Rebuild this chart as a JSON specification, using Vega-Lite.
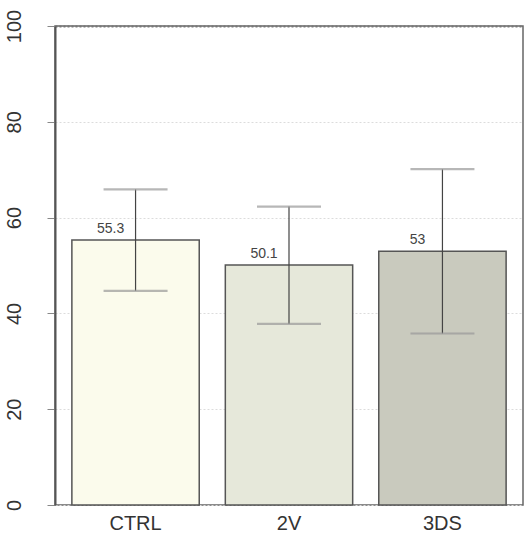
{
  "$schema": "https://vega.github.io/schema/vega-lite/v6.json",
  "width": 468,
  "height": 479,
  "autosize": {"type": "none"},
  "padding": {"left": 55, "top": 26, "right": 7, "bottom": 38},
  "background": "white",
  "config": {
    "font": "Liberation Sans",
    "view": {"stroke": "#666", "strokeWidth": 1.5},
    "axis": {"labelFont": "Liberation Sans", "labelColor": "#333"}
  },
  "data": {
    "values": [
      {"group": "CTRL", "mean": 55.3, "lo": 44.7, "hi": 65.9, "label": "55.3"},
      {"group": "2V", "mean": 50.1, "lo": 37.8, "hi": 62.3, "label": "50.1"},
      {"group": "3DS", "mean": 53, "lo": 35.8, "hi": 70.1, "label": "53"}
    ]
  },
  "encoding": {
    "x": {
      "field": "group",
      "type": "nominal",
      "sort": ["CTRL", "2V", "3DS"],
      "scale": {"paddingInner": 0.17, "paddingOuter": 0.11},
      "axis": {"title": null, "labelAngle": 0, "ticks": false, "domain": false, "labelFontSize": 20, "labelPadding": 8, "labelColor": "#333", "grid": false}
    }
  },
  "layer": [
    {
      "mark": {"type": "bar", "stroke": "#555", "strokeWidth": 1.5},
      "encoding": {
        "y": {
          "field": "mean",
          "type": "quantitative",
          "scale": {"domain": [0, 100], "nice": false},
          "axis": {
            "title": null,
            "values": [0, 20, 40, 60, 80, 100],
            "labelAngle": -90,
            "labelAlign": "center",
            "labelBaseline": "bottom",
            "labelFontSize": 20,
            "labelPadding": 23,
            "tickSize": 8,
            "tickColor": "#888",
            "domainColor": "#555",
            "domainWidth": 2,
            "gridDash": [2, 2],
            "gridColor": {"condition": {"test": "datum.value === 100", "value": "#777"}, "value": "#dcdcdc"},
            "gridWidth": {"condition": {"test": "datum.value === 100", "value": 2}, "value": 1}
          }
        },
        "color": {
          "field": "group",
          "type": "nominal",
          "scale": {"domain": ["CTRL", "2V", "3DS"], "range": ["#fbfbec", "#e6e8da", "#c9cabe"]},
          "legend": null
        }
      }
    },
    {
      "mark": {"type": "rule", "color": "#444", "strokeWidth": 1.2},
      "encoding": {
        "y": {"field": "lo", "type": "quantitative"},
        "y2": {"field": "hi"}
      }
    },
    {
      "mark": {"type": "tick", "color": "#999", "thickness": 2.2, "size": 64},
      "encoding": {"y": {"field": "lo", "type": "quantitative"}}
    },
    {
      "mark": {"type": "tick", "color": "#999", "thickness": 2.2, "size": 64},
      "encoding": {"y": {"field": "hi", "type": "quantitative"}}
    },
    {
      "mark": {"type": "text", "fontSize": 14, "color": "#444", "dx": -25, "dy": -4, "baseline": "bottom", "align": "center"},
      "encoding": {
        "y": {"field": "mean", "type": "quantitative"},
        "text": {"field": "label"}
      }
    }
  ]
}
